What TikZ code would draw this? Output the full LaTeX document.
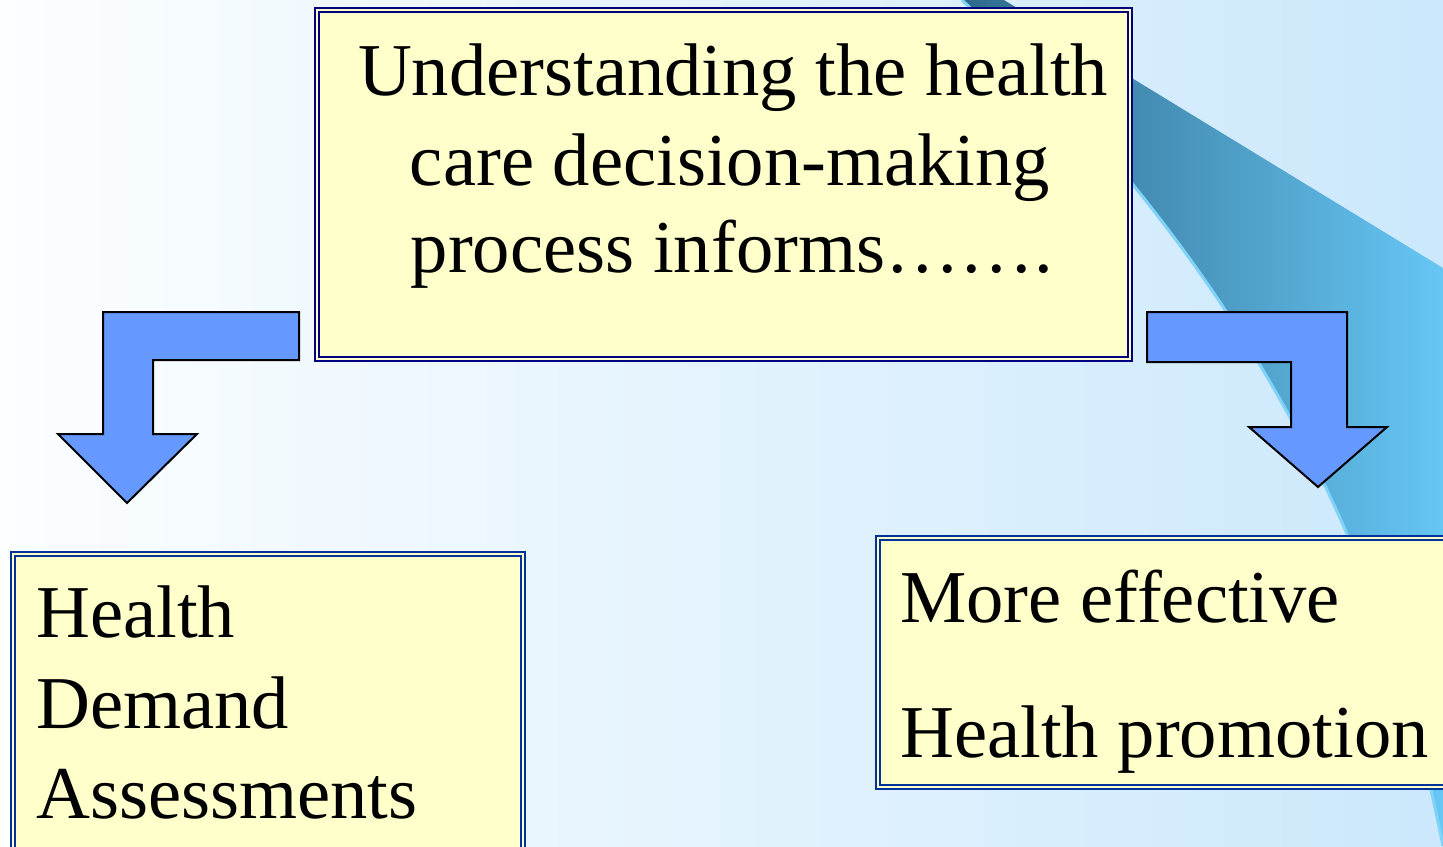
\documentclass[tikz,border=0pt]{standalone}
\usepackage{fontspec}
\setmainfont{Liberation Serif}
\definecolor{boxfill}{HTML}{FFFFCC}
\definecolor{arrowfill}{HTML}{6699FF}
\definecolor{topborder}{HTML}{000080}
\definecolor{lowborder}{HTML}{003399}
\definecolor{bgleft}{HTML}{FCFEFF}
\definecolor{bgright}{HTML}{CBE8FC}
\definecolor{swdark}{HTML}{2F6A8C}
\definecolor{swlight}{HTML}{66C6F4}
\definecolor{swedge}{HTML}{80D2F8}
\tikzset{
  x=1pt, y=-1pt,
  dbox/.style={draw=#1, line width=2pt, double=boxfill, double distance=2.5pt,
    fill=boxfill, inner sep=0pt, rectangle},
  bigtext/.style={font=\fontsize{74.6}{88}\selectfont, inner sep=0pt},
  bentarrow/.style={fill=arrowfill, draw=black, line width=2pt, line join=miter}
}
\begin{document}
\begin{tikzpicture}
\useasboundingbox (0,0) rectangle (1443,846);
\clip (0,0) rectangle (1443,846);
% background
\shade[left color=bgleft, right color=bgright] (0,0) rectangle (1443,846);
% swoosh
\shade[left color=swdark, right color=swlight]
  (1004,0) -- (1443,268) -- (1443,846)
  .. controls (1375,500) and (1212,240) .. (962,0) -- cycle;
\draw[swedge, line width=3pt] (1443,846) .. controls (1375,500) and (1212,240) .. (962,0);
% boxes
\node[dbox=topborder, minimum width=813pt, minimum height=349pt] (top) at (723.5,184.5) {};
\node[dbox=lowborder, minimum width=510pt, minimum height=346pt] (left) at (268,727) {};
\node[dbox=lowborder, minimum width=622pt, minimum height=249pt] (right) at (1189,662.5) {};
% texts
\node[bigtext, anchor=base] (t1) at (733,95) {Understanding the health};
\node[bigtext, anchor=base] (t2) at (730,185) {care decision-making};
\node[bigtext, anchor=base] (t3) at (732,272) {process informs…….};
\node[bigtext, anchor=base west] (l1) at (36,637) {Health};
\node[bigtext, anchor=base west] (l2) at (36,728) {Demand};
\node[bigtext, anchor=base west] (l3) at (36,818) {Assessments};
\node[bigtext, anchor=base west] (r1) at (900,622) {More effective};
\node[bigtext, anchor=base west] (r2) at (900,757) {Health promotion};
% bent arrows
\draw[bentarrow] (299,312) -- (103,312) -- (103,434) -- (58,434) -- (127,503)
  -- (197,434) -- (153,434) -- (153,360) -- (299,360) -- cycle;
\draw[bentarrow] (1147,312) -- (1347,312) -- (1347,427) -- (1387,427) -- (1318,487)
  -- (1249,427) -- (1291,427) -- (1291,362) -- (1147,362) -- cycle;
\end{tikzpicture}
\end{document}
